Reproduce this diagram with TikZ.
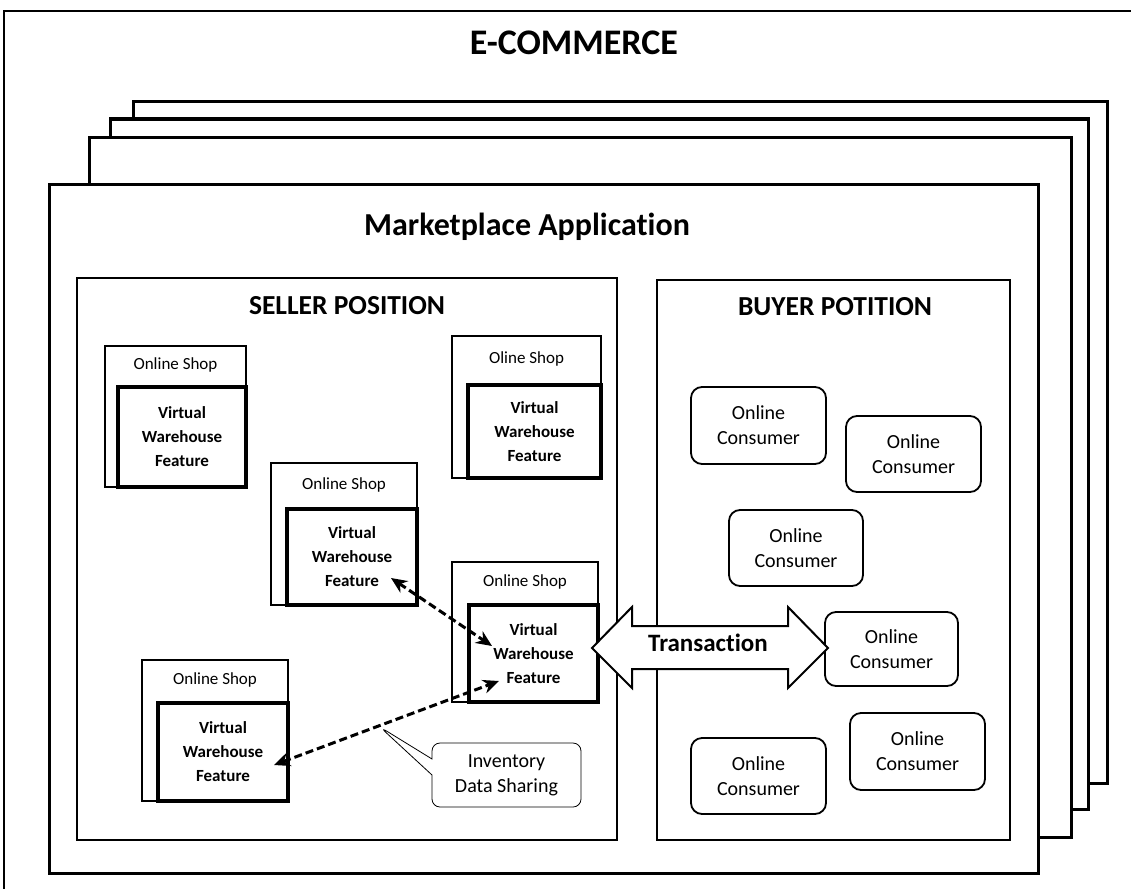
\documentclass[tikz,border=0pt]{standalone}
\usepackage{fontspec}
\setmainfont{Carlito}[Ligatures={NoCommon}]
\usetikzlibrary{arrows.meta,shapes.callouts,fit,calc}
\tikzset{
  frameline/.style={line width=2pt},
  page/.style={draw, line width=3pt, fill=white},
  region/.style={draw, line width=2pt, fill=white, inner sep=0pt},
  shopbox/.style={draw, line width=1.6pt, fill=white, inner sep=0pt},
  vwbox/.style={draw, line width=4pt, fill=white, inner sep=0pt},
  vwtext/.style={font=\bfseries\fontsize{17}{24}\selectfont, align=center, inner sep=0pt},
  shoplbl/.style={font=\fontsize{17}{19}\selectfont, inner sep=0pt},
  cons/.style={draw, line width=1.8pt, rounded corners=11pt, fill=white, align=center,
    font=\fontsize{20}{25}\selectfont},
  bigtitle/.style={font=\bfseries\fontsize{36}{40}\selectfont},
  apptitle/.style={font=\bfseries\fontsize{32}{34}\selectfont},
  regtitle/.style={font=\bfseries\fontsize{27.5}{30}\selectfont},
  share/.style={dashed, line width=3pt, dash pattern=on 8pt off 4pt,
    {Stealth[length=16pt,width=14pt]}-{Stealth[length=16pt,width=14pt]}},
  note/.style={draw, line width=0.8pt, rectangle callout, rounded corners=8pt, fill=white,
    align=center, font=\fontsize{20}{25}\selectfont, minimum width=149pt, minimum height=64pt,
    callout pointer width=16pt},
  bigarrow/.style={draw, line width=2pt, fill=white, line join=miter},
}
\newcommand\myshop[8]{%
  \node[shopbox, fit={(#2,#3) (#4,#5)}] (#1) {};
  \node[vwbox, fit={(#6,#7) (#4,#5)}] (#1w) {};
  \node[vwtext] (#1t) at (#1w.center) {Virtual\\Warehouse\\Feature};
  \node[shoplbl] (#1l) at ($(#1.north)!0.5!(#1.north |- #1w.north)$) {#8};
}
\begin{document}
\begin{tikzpicture}[x=1pt,y=-1pt]
\useasboundingbox (0,0) rectangle (1131,888);
% outer e-commerce frame
\draw[frameline] (4,900) -- (4,11) -- (1140,11);
\node[bigtitle] (ecom) at (574,43) {E-COMMERCE};
% stacked application pages
\node[page, inner sep=0pt, fit={(133,102) (1107,783)}] (p1) {};
\node[page, inner sep=0pt, fit={(110,119) (1088,809)}] (p2) {};
\node[page, inner sep=0pt, fit={(89,137) (1071,837)}] (p3) {};
\node[page, inner sep=0pt, fit={(49,184) (1038,873)}] (p4) {};
\node[apptitle] (app) at (527,227) {Marketplace Application};
% regions
\node[region, fit={(77,278) (617,840)}] (seller) {};
\node[region, fit={(657,280) (1010,840)}] (buyer) {};
\node[regtitle] (sellert) at (347,306) {SELLER POSITION};
\node[regtitle] (buyert) at (835,307) {BUYER POTITION};
% shops
\myshop{s1}{105}{346}{246}{487}{118}{387}{Online Shop}
\myshop{s2}{452}{336}{601}{478}{468}{385}{Oline Shop}
\myshop{s3}{271}{463}{417}{605}{287}{509}{Online Shop}
\myshop{s4}{452}{562}{598}{702}{469}{605}{Online Shop}
\myshop{s5}{142}{660}{288}{801}{158}{703}{Online Shop}
% consumers
\node[cons, minimum width=135pt, minimum height=77pt] (c1) at (758.5,425.5) {Online\\Consumer};
\node[cons, minimum width=135pt, minimum height=76pt] (c2) at (913.5,454) {Online\\Consumer};
\node[cons, minimum width=134pt, minimum height=76pt] (c3) at (796,548) {Online\\Consumer};
\node[cons, minimum width=133pt, minimum height=74pt] (c4) at (891.5,649) {Online\\Consumer};
\node[cons, minimum width=135pt, minimum height=76pt] (c5) at (758.5,776) {Online\\Consumer};
\node[cons, minimum width=135pt, minimum height=77pt] (c6) at (917.5,751.5) {Online\\Consumer};
% inventory data sharing
\coordinate (a3) at (391,578);
\coordinate (a4) at (492,646);
\coordinate (b4) at (499,681);
\coordinate (b5) at (274,765);
\draw[share] (a3) -- (a4);
\draw[share] (b5) -- (b4);
\coordinate (tip) at (380,727);
\node[note, callout absolute pointer={(tip)}] (inv) at (506.5,775) {Inventory\\Data Sharing};
% transaction arrow
\draw[bigarrow] (592,648) -- (632,607) -- (632,626) -- (788,626) -- (788,607) -- (828,648)
  -- (788,688) -- (788,669) -- (632,669) -- (632,688) -- cycle;
\node[font=\bfseries\fontsize{25}{28}\selectfont] (trans) at (708,643) {Transaction};
\end{tikzpicture}
\end{document}
